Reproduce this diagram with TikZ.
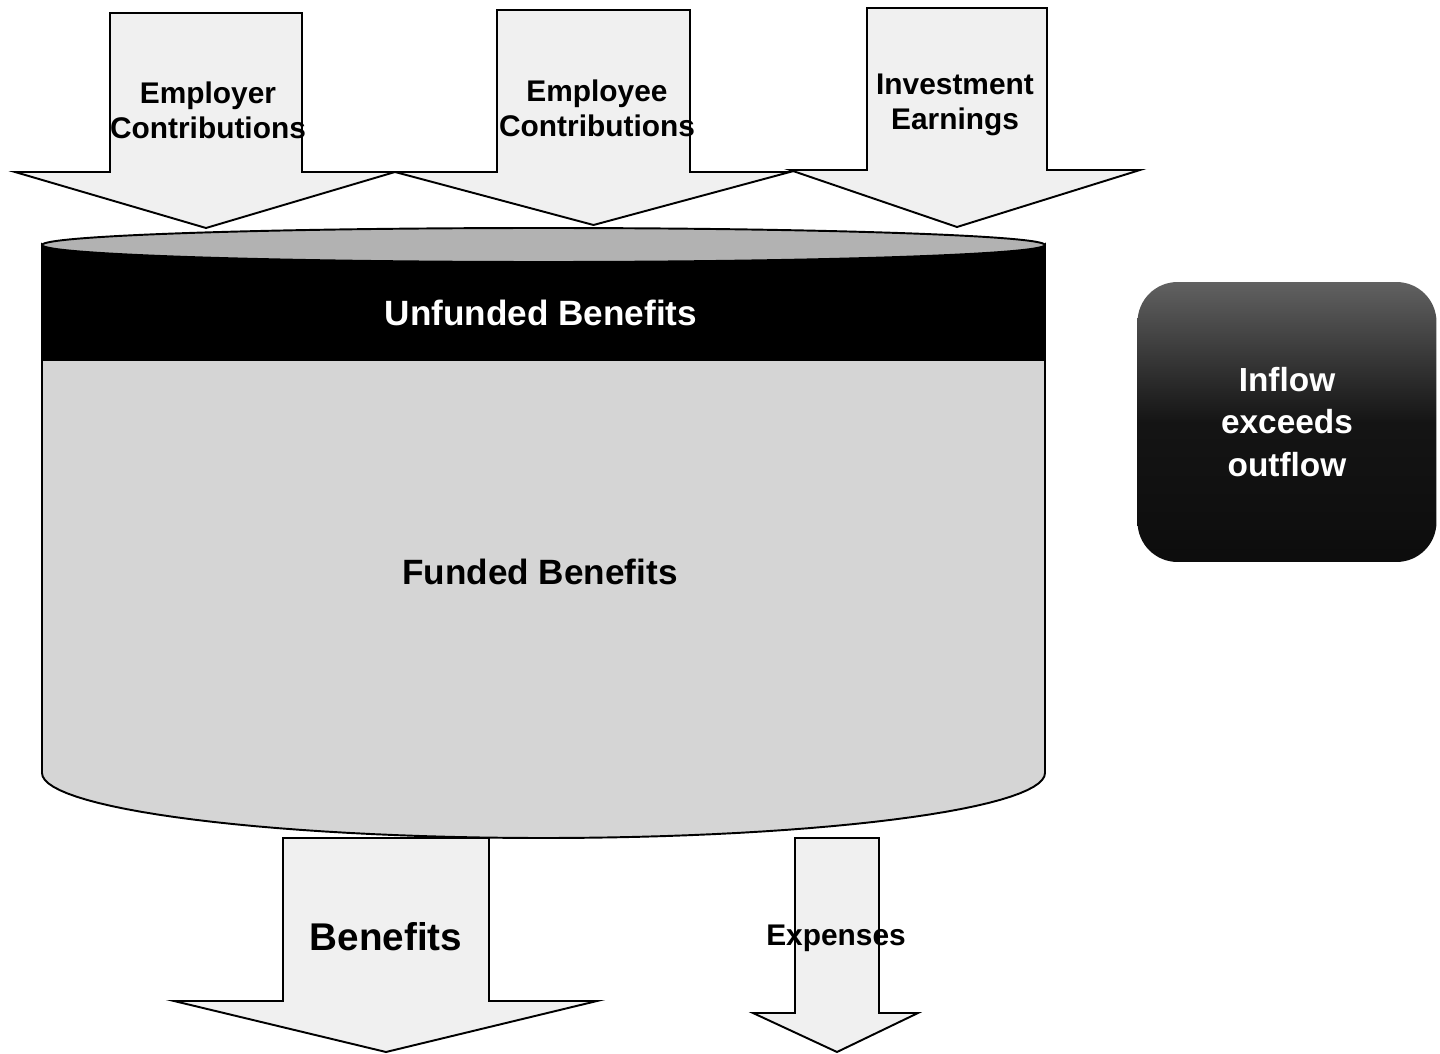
\documentclass[tikz,border=0pt]{standalone}
\usepackage{fontspec}
\setmainfont{Liberation Sans}
% block arrow: shaft left, shaft right, top, head base, head left, head right, tip
\newcommand{\flowarrow}[7]{%
  \path[FlowArrow] (#1,#3) -- (#2,#3) -- (#2,#4) -- (#6,#4)
    -- ({(#1+#2)/2},#7) -- (#5,#4) -- (#1,#4) -- cycle;}
\begin{document}
\begin{tikzpicture}[x=0.02cm,y=-0.02cm]
	\tikzstyle{FlowArrow}=[draw=black,line width=1.1pt,fill=gray!12]
	\tikzstyle{FlowLabel}=[font=\bfseries\fontsize{17}{20}\selectfont,align=center]
	\tikzstyle{TankLabel}=[font=\bfseries\fontsize{20}{24}\selectfont]
	\useasboundingbox (0,0) rectangle (1440,1054);
	% tank
	\path[draw=black,line width=1.1pt,fill=gray!33] (42,245) -- (42,773)
		-- plot[domain=180:360,samples=60] ({543.5+501.5*cos(\x)},{773-65*sin(\x)})
		-- (1045,245) -- cycle;
	\path[fill=black,draw=black,line width=1.1pt] (42,245)
		-- plot[domain=180:360,samples=60] ({543.5+501.5*cos(\x)},{245-17*sin(\x)})
		-- (1045,360) -- (42,360) -- cycle;
	\path[draw=black,line width=1.1pt,fill=gray!60] (543.5,245) ellipse [x radius=10.03cm,y radius=0.34cm];
	\node[TankLabel,text=white] (unfunded) at (541,313) {Unfunded Benefits};
	\node[TankLabel] (funded) at (540,572) {Funded Benefits};
	% inflows
	\flowarrow{110}{302}{13}{172}{15}{395}{228}
	\flowarrow{497}{690}{10}{172}{395}{790}{225}
	\flowarrow{867}{1047}{8}{170}{790}{1140}{227}
	\node[FlowLabel] (emplr) at (208,110) {Employer\\Contributions};
	\node[FlowLabel] (emple) at (597,108) {Employee\\Contributions};
	\node[FlowLabel] (invest) at (955,105) {Investment\\Earnings};
	% outflows
	\flowarrow{283}{489}{838}{1001}{174}{597}{1052}
	\flowarrow{795}{879}{838}{1013}{753}{918}{1052}
	\node[font=\bfseries\fontsize{22}{26}\selectfont] (benefits) at (386,937) {Benefits};
	\node[font=\bfseries\fontsize{17}{20}\selectfont] (expenses) at (836,938) {Expenses};
	% note
	\node[rounded corners=0.8cm,top color=black!62,bottom color=black!95,middle color=black!92,
		minimum width=5.98cm,minimum height=5.6cm,text=white,align=center,
		font=\bfseries\fontsize{19}{24}\selectfont] (inflow) at (1287,422) {Inflow\\exceeds\\outflow};
\end{tikzpicture}
\end{document}
